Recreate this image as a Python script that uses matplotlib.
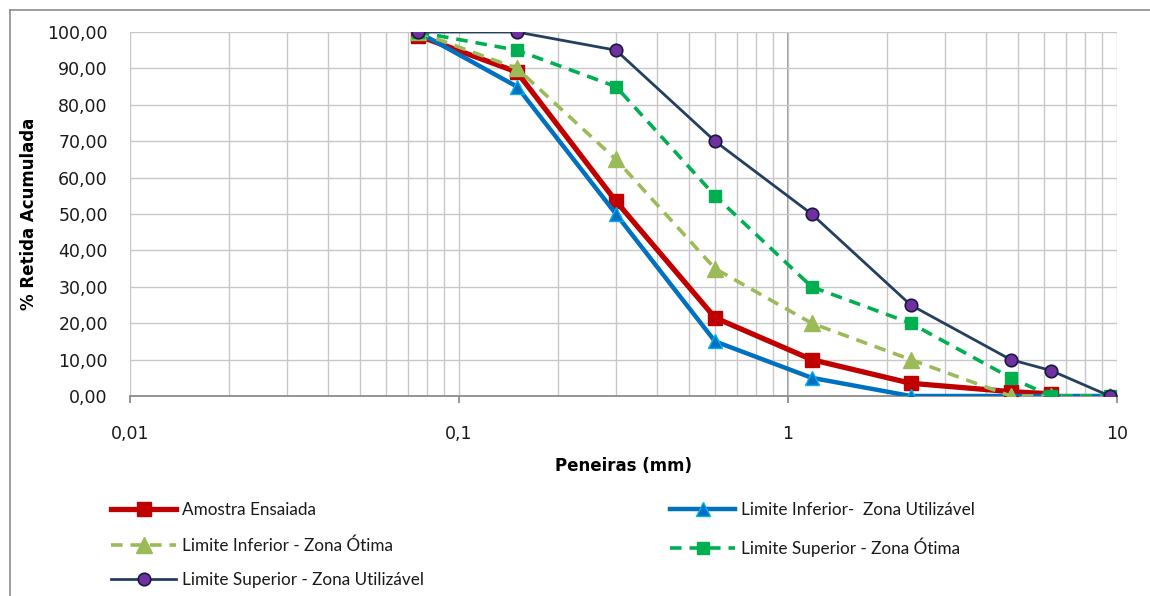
import numpy as np
import matplotlib
matplotlib.use("Agg")
import matplotlib.pyplot as plt
from matplotlib.ticker import LogLocator, FixedLocator, FuncFormatter, MultipleLocator
from matplotlib.lines import Line2D

sieves = [0.075, 0.15, 0.3, 0.6, 1.18, 2.36, 4.75, 6.3, 9.5]
amostra = [99.0, 89.0, 53.5, 21.5, 10.0, 3.5, 1.2, 0.6, np.nan]
inf_util = [100, 85, 50, 15, 5, 0, 0, 0, 0]
inf_otima = [100, 90, 65, 35, 20, 10, 0, 0, 0]
sup_otima = [100, 95, 85, 55, 30, 20, 5, 0, 0]
sup_util = [100, 100, 95, 70, 50, 25, 10, 7, 0]

labels = ["Amostra Ensaiada", "Limite Inferior-  Zona Utilizável",
          "Limite Inferior - Zona Ótima", "Limite Superior - Zona Ótima",
          "Limite Superior - Zona Utilizável"]
x_ticks = [0.01, 0.1, 1, 10]
x_ticklabels = ["0,01", "0,1", "1", "10"]

W, H = 1150, 596
fig = plt.figure(figsize=(W / 100, H / 100), dpi=100)
fig.patch.set_facecolor("white")
# chart border (left and top only visible)
fig.add_artist(Line2D([9.5 / W, 9.5 / W], [0, 1 - 10 / H], transform=fig.transFigure,
                      color="#8c8c8c", lw=1.2))
fig.add_artist(Line2D([9.5 / W, 1], [1 - 10 / H, 1 - 10 / H], transform=fig.transFigure,
                      color="#8c8c8c", lw=1.2))

ax = fig.add_axes([130 / W, 1 - 396 / H, (1117 - 130) / W, (396 - 32) / H])
ax.set_xscale("log")
ax.set_xlim(0.01, 10)
ax.set_ylim(0, 100)

ax.xaxis.set_major_locator(FixedLocator(x_ticks))
ax.xaxis.set_minor_locator(LogLocator(base=10, subs=np.arange(2, 10), numticks=20))
ax.xaxis.set_major_formatter(FuncFormatter(lambda v, p: x_ticklabels[x_ticks.index(v)] if v in x_ticks else ""))
ax.xaxis.set_minor_formatter(FuncFormatter(lambda v, p: ""))
ax.yaxis.set_major_locator(MultipleLocator(10))
ax.yaxis.set_major_formatter(FuncFormatter(lambda v, p: f"{v:.2f}".replace(".", ",")))

ax.grid(True, which="major", axis="y", color="#c8c8c8", lw=1)
ax.grid(True, which="both", axis="x", color="#c8c8c8", lw=1)
ax.axvline(1, color="#8c8c8c", lw=1.3, zorder=1.5)
for s in ["top", "right", "left"]:
    ax.spines[s].set_visible(False)
ax.spines["bottom"].set_color("#8c8c8c")
ax.spines["bottom"].set_linewidth(1.3)
ax.tick_params(axis="x", which="major", length=5, color="#8c8c8c", width=1.3,
               labelsize=12.5, pad=16)
ax.tick_params(axis="x", which="minor", length=0)
ax.tick_params(axis="y", length=0, labelsize=12.5, pad=16)
for t in ax.get_xticklabels() + ax.get_yticklabels():
    t.set_color("#1a1a1a")

ax.plot(sieves, amostra, color="#C00000", lw=3.8, marker="s", ms=10.5,
        mfc="#C00000", mec="#C00000", label=labels[0], zorder=3)
ax.plot(sieves, inf_util, color="#0070C0", lw=3.2, marker="^", ms=10,
        mfc="#0070C0", mec="#00B0F0", mew=1, label=labels[1], zorder=4)
ax.plot(sieves, inf_otima, color="#9BBB59", lw=2.6, ls=(0, (3.2, 2.2)), marker="^", ms=11,
        mfc="#9BBB59", mec="#9BBB59", label=labels[2], zorder=5)
ax.plot(sieves, sup_otima, color="#00B050", lw=2.6, ls=(0, (3.2, 2.2)), marker="s", ms=8.5,
        mfc="#00B050", mec="#00B050", label=labels[3], zorder=6)
ax.plot(sieves, sup_util, color="#243F60", lw=2.0, marker="o", ms=9,
        mfc="#7030A0", mec="#1a1a40", mew=1.2, label=labels[4], zorder=7)

ax.set_xlabel("Peneiras (mm)", fontsize=12, fontweight="bold", labelpad=10)
ax.set_ylabel("% Retida Acumulada", fontsize=12, fontweight="bold", labelpad=7)

handles, labs = ax.get_legend_handles_labels()
order = [0, 2, 4, 1, 3]
leg = fig.legend([handles[i] for i in order], [labs[i] for i in order], ncol=2,
                 loc="upper left", bbox_to_anchor=(96 / W, 1 - 487 / H),
                 frameon=False, handlelength=3.8, handletextpad=0.35,
                 columnspacing=14.4, labelspacing=1.1,
                 prop={"family": ["Lato", "DejaVu Sans"], "size": 12.3})
for t in leg.get_texts():
    t.set_color("#1a1a1a")

fig.savefig("out.png", dpi=100, facecolor="white")
